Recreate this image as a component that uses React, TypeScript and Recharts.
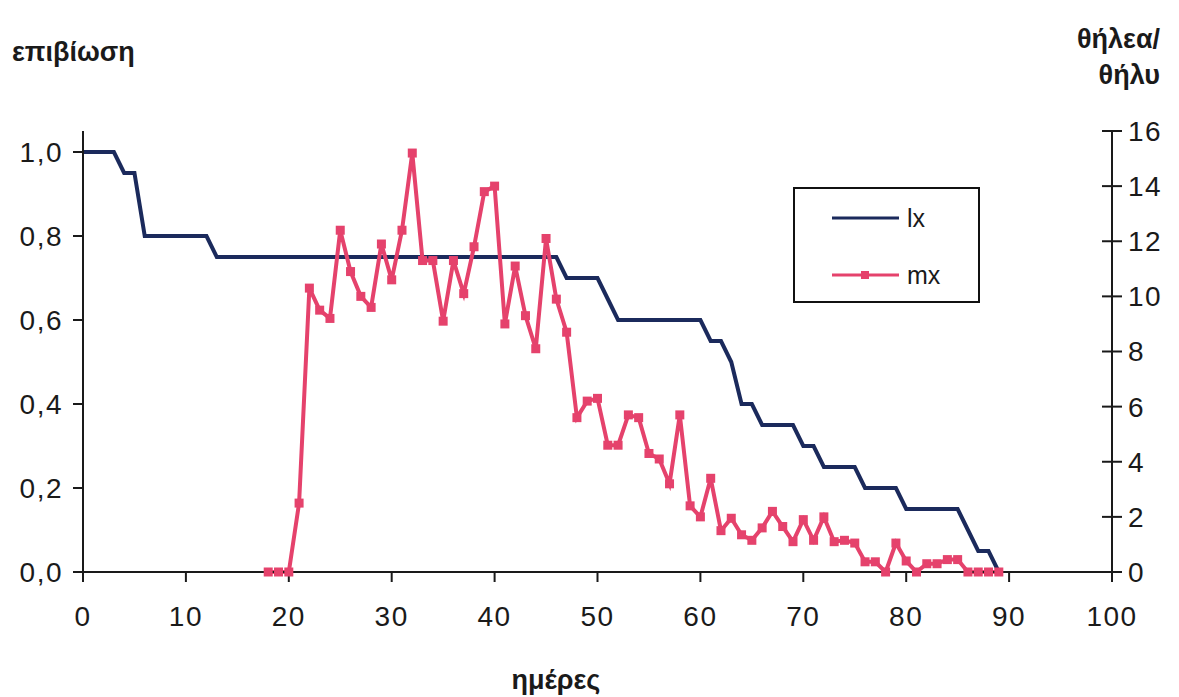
import React from 'react';
import { LineChart, Line, XAxis, YAxis } from 'recharts';

const days = [
  0, 1, 2, 3, 4, 5, 6, 7, 8, 9, 10, 11, 12, 13, 14, 15, 16, 17, 18, 19,
  20, 21, 22, 23, 24, 25, 26, 27, 28, 29, 30, 31, 32, 33, 34, 35, 36, 37, 38, 39,
  40, 41, 42, 43, 44, 45, 46, 47, 48, 49, 50, 51, 52, 53, 54, 55, 56, 57, 58, 59,
  60, 61, 62, 63, 64, 65, 66, 67, 68, 69, 70, 71, 72, 73, 74, 75, 76, 77, 78, 79,
  80, 81, 82, 83, 84, 85, 86, 87, 88, 89,
];

// survival lx (left axis)
const lxValues = [
  1.0, 1.0, 1.0, 1.0, 0.95, 0.95, 0.8, 0.8, 0.8, 0.8, 0.8, 0.8, 0.8, 0.75, 0.75, 0.75, 0.75, 0.75, 0.75, 0.75,
  0.75, 0.75, 0.75, 0.75, 0.75, 0.75, 0.75, 0.75, 0.75, 0.75, 0.75, 0.75, 0.75, 0.75, 0.75, 0.75, 0.75, 0.75, 0.75, 0.75,
  0.75, 0.75, 0.75, 0.75, 0.75, 0.75, 0.75, 0.7, 0.7, 0.7, 0.7, 0.65, 0.6, 0.6, 0.6, 0.6, 0.6, 0.6, 0.6, 0.6,
  0.6, 0.55, 0.55, 0.5, 0.4, 0.4, 0.35, 0.35, 0.35, 0.35, 0.3, 0.3, 0.25, 0.25, 0.25, 0.25, 0.2, 0.2, 0.2, 0.2,
  0.15, 0.15, 0.15, 0.15, 0.15, 0.15, 0.1, 0.05, 0.05, 0.0,
];

// fecundity mx (right axis), days 18..89
const mxDays = [
  18, 19, 20, 21, 22, 23, 24, 25, 26, 27, 28, 29, 30, 31, 32, 33, 34, 35, 36, 37,
  38, 39, 40, 41, 42, 43, 44, 45, 46, 47, 48, 49, 50, 51, 52, 53, 54, 55, 56, 57,
  58, 59, 60, 61, 62, 63, 64, 65, 66, 67, 68, 69, 70, 71, 72, 73, 74, 75, 76, 77,
  78, 79, 80, 81, 82, 83, 84, 85, 86, 87, 88, 89,
];
const mxValues = [
  0, 0, 0, 2.5, 10.3, 9.5, 9.2, 12.4, 10.9, 10.0, 9.6, 11.9, 10.6, 12.4, 15.2, 11.3, 11.3, 9.1, 11.3, 10.1,
  11.8, 13.8, 14.0, 9.0, 11.1, 9.3, 8.1, 12.1, 9.9, 8.7, 5.6, 6.2, 6.3, 4.6, 4.6, 5.7, 5.6, 4.3, 4.1, 3.2,
  5.7, 2.4, 2.0, 3.4, 1.5, 1.95, 1.35, 1.15, 1.6, 2.2, 1.65, 1.1, 1.9, 1.15, 2.0, 1.1, 1.15, 1.05, 0.37, 0.37,
  0, 1.05, 0.4, 0, 0.3, 0.3, 0.45, 0.45, 0, 0, 0, 0,
];

const xTicks = [0, 10, 20, 30, 40, 50, 60, 70, 80, 90, 100];
const leftTicks = [0, 0.2, 0.4, 0.6, 0.8, 1.0];
const rightTicks = [0, 2, 4, 6, 8, 10, 12, 14, 16];

const data = days.map((d, i) => {
  const j = mxDays.indexOf(d);
  return { day: d, lx: lxValues[i], mx: j >= 0 ? mxValues[j] : undefined };
});

const BLUE = '#1b2a5c';
const RED = '#e5426c';
const INK = '#1a1a1a';
const FONT = '"Liberation Sans", Arial, sans-serif';
const TICK_STYLE = { fill: INK, fontSize: 28, fontFamily: FONT, letterSpacing: 1.5 };

const SquareDot = (props: any) => {
  const { cx, cy, index } = props;
  if (cx == null || cy == null) return <g key={`d${index}`} />;
  return <rect key={`d${index}`} x={cx - 4.5} y={cy - 4.5} width={9} height={9} fill={RED} />;
};

const RightTick = (props: any) => {
  const { x, y, payload } = props;
  const ax = x - 16;
  return (
    <g>
      <line x1={ax - 10} x2={ax} y1={y} y2={y} stroke={INK} strokeWidth={2} />
      <text x={x} y={y} dy="0.355em" textAnchor="start" fill={INK} fontSize={28} fontFamily={FONT} letterSpacing={1.5}>
        {payload.value}
      </text>
    </g>
  );
};

export default function App() {
  return (
    <div style={{ position: 'absolute', left: 0, top: 0, width: 1179, height: 697, background: '#fff' }}>
      <LineChart width={1179} height={697} data={data} margin={{ top: 131, right: 7, bottom: 65, left: 8 }}>
        <XAxis
          dataKey="day"
          type="number"
          domain={[0, 100]}
          ticks={xTicks}
          height={60}
          tickSize={10}
          tickMargin={24}
          axisLine={{ stroke: INK, strokeWidth: 2 }}
          tickLine={{ stroke: INK, strokeWidth: 2 }}
          tick={TICK_STYLE}
          interval={0}
        />
        <YAxis
          yAxisId="left"
          domain={[0, 1.05]}
          ticks={leftTicks}
          width={75}
          tickSize={10}
          tickMargin={10}
          tickFormatter={(v: number) => v.toFixed(1).replace('.', ',')}
          axisLine={{ stroke: INK, strokeWidth: 2 }}
          tickLine={{ stroke: INK, strokeWidth: 2 }}
          tick={TICK_STYLE}
          interval={0}
        />
        <YAxis
          yAxisId="right"
          orientation="right"
          domain={[0, 16]}
          ticks={rightTicks}
          width={60}
          tickSize={10}
          tickMargin={6}
          axisLine={{ stroke: INK, strokeWidth: 2 }}
          tickLine={{ stroke: INK, strokeWidth: 2 }}
          tick={<RightTick />}
          interval={0}
        />
        <Line
          yAxisId="left"
          type="linear"
          dataKey="lx"
          stroke={BLUE}
          strokeWidth={4}
          dot={false}
          activeDot={false}
          isAnimationActive={false}
        />
        <Line
          yAxisId="right"
          type="linear"
          dataKey="mx"
          stroke={RED}
          strokeWidth={4}
          dot={<SquareDot />}
          activeDot={false}
          connectNulls={false}
          isAnimationActive={false}
        />
      </LineChart>
      <div
        style={{
          position: 'absolute', left: 793, top: 187, width: 187, height: 116,
          border: '2px solid #111', boxSizing: 'border-box', background: '#fff',
        }}
      >
        <svg width={183} height={112} style={{ display: 'block' }}>
          <line x1={37} x2={104} y1={29} y2={29} stroke={BLUE} strokeWidth={3} />
          <text x={112} y={29} dy="0.355em" fontSize={25} fontFamily={FONT} fill={INK}>lx</text>
          <line x1={37} x2={104} y1={86} y2={86} stroke={RED} strokeWidth={3} />
          <rect x={66} y={82} width={8} height={8} fill={RED} />
          <text x={112} y={86} dy="0.355em" fontSize={25} fontFamily={FONT} fill={INK}>mx</text>
        </svg>
      </div>
      <svg width={1179} height={697} style={{ position: 'absolute', left: 0, top: 0, pointerEvents: 'none' }}>
        <text x={12} y={61} fontSize={27} fontWeight="bold" fontFamily={FONT} fill={INK}>επιβίωση</text>
        <text x={1160} y={48} fontSize={27} fontWeight="bold" fontFamily={FONT} fill={INK} textAnchor="end">θήλεα/</text>
        <text x={1160} y={84} fontSize={27} fontWeight="bold" fontFamily={FONT} fill={INK} textAnchor="end">θήλυ</text>
        <text x={556} y={689} fontSize={27} fontWeight="bold" fontFamily={FONT} fill={INK} textAnchor="middle">ημέρες</text>
      </svg>
    </div>
  );
}
